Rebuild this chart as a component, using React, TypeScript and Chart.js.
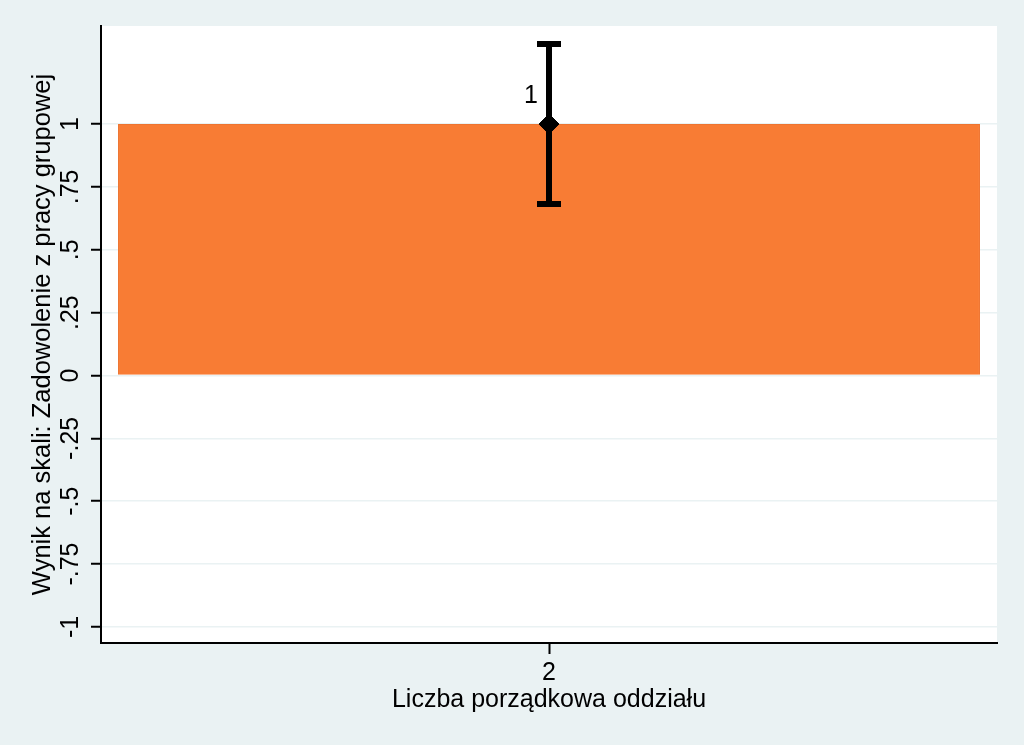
import { useEffect, useRef } from 'react'
import { Chart, registerables, Plugin } from 'chart.js'

Chart.register(...registerables)

// data
const categories = ['2']
const means = [1]
const ciLower = [0.682]
const ciUpper = [1.318]
const meanLabels = ['1']

const yTickValues = [-1, -0.75, -0.5, -0.25, 0, 0.25, 0.5, 0.75, 1]
const yTickLabels = ['-1', '-.75', '-.5', '-.25', '0', '.25', '.5', '.75', '1']

const yTitle = 'Wynik na skali: Zadowolenie z pracy grupowej'
const xTitle = 'Liczba porządkowa oddziału'

const BG = '#EAF2F3'
const ORANGE = '#F87C34'
const FONT = '25px "Liberation Sans", Arial, sans-serif'

const stataPlugin: Plugin = {
  id: 'stataLook',
  beforeDraw(chart) {
    const { ctx, chartArea } = chart
    ctx.save()
    ctx.fillStyle = '#ffffff'
    ctx.fillRect(chartArea.left, chartArea.top, chartArea.right - chartArea.left, chartArea.bottom - chartArea.top)
    ctx.restore()
  },
  afterDatasetDraw(chart, args) {
    if (args.index !== 0) return
    const { ctx } = chart
    const x = chart.scales.x
    const y = chart.scales.y
    ctx.save()
    ctx.strokeStyle = '#000'
    ctx.lineWidth = 6
    ctx.lineCap = 'butt'
    categories.forEach((_, i) => {
      const px = x.getPixelForValue(i)
      const top = y.getPixelForValue(ciUpper[i])
      const bot = y.getPixelForValue(ciLower[i])
      ctx.beginPath()
      ctx.moveTo(px, top)
      ctx.lineTo(px, bot)
      ctx.moveTo(px - 12, top)
      ctx.lineTo(px + 12, top)
      ctx.moveTo(px - 12, bot)
      ctx.lineTo(px + 12, bot)
      ctx.stroke()
    })
    ctx.restore()
  },
  afterDraw(chart) {
    const { ctx, chartArea } = chart
    const x = chart.scales.x
    const y = chart.scales.y
    ctx.save()
    ctx.fillStyle = '#000'
    ctx.font = FONT
    ctx.textAlign = 'center'
    ctx.textBaseline = 'middle'

    // value labels next to the markers
    categories.forEach((_, i) => {
      const px = x.getPixelForValue(i)
      const py = y.getPixelForValue(means[i])
      ctx.fillText(meanLabels[i], px - 18, py - 28)
    })

    // x tick labels and title
    categories.forEach((c, i) => {
      ctx.fillText(c, x.getPixelForValue(i), chartArea.bottom + 30)
    })
    ctx.fillText(xTitle, (chartArea.left + chartArea.right) / 2, chartArea.bottom + 57)

    // rotated y tick labels
    yTickValues.forEach((v, i) => {
      const py = y.getPixelForValue(v)
      ctx.save()
      ctx.translate(chartArea.left - 30, py)
      ctx.rotate(-Math.PI / 2)
      ctx.fillText(yTickLabels[i], 0, 0)
      ctx.restore()
    })

    // y title
    ctx.save()
    ctx.translate(chartArea.left - 58, (chartArea.top + chartArea.bottom) / 2)
    ctx.rotate(-Math.PI / 2)
    ctx.font = '25.5px "Liberation Sans", Arial, sans-serif'
    ctx.fillText(yTitle, 0, 0)
    ctx.restore()

    ctx.restore()
  },
}

export default function App() {
  const canvasRef = useRef<HTMLCanvasElement>(null)
  const chartRef = useRef<Chart | null>(null)

  useEffect(() => {
    document.body.style.margin = '0'
    if (!canvasRef.current) return
    if (chartRef.current) chartRef.current.destroy()

    chartRef.current = new Chart(canvasRef.current, {
      type: 'bar',
      data: {
        labels: categories,
        datasets: [
          {
            type: 'bar',
            label: 'mean',
            data: means,
            backgroundColor: ORANGE,
            borderColor: '#EE7430',
            borderWidth: 1,
            barPercentage: 0.962,
            categoryPercentage: 1,
            order: 2,
          },
          {
            type: 'line',
            label: 'marker',
            data: means,
            showLine: false,
            pointStyle: 'rectRot',
            pointRadius: 10,
            pointBackgroundColor: '#000',
            pointBorderColor: '#000',
            pointBorderWidth: 1,
            order: 1,
          },
        ],
      },
      options: {
        animation: false,
        responsive: true,
        maintainAspectRatio: false,
        layout: { padding: { top: 26, right: 27, left: 0, bottom: 0 } },
        plugins: {
          legend: { display: false },
          tooltip: { enabled: false },
        },
        scales: {
          x: {
            offset: true,
            grid: {
              offset: false,
              drawOnChartArea: false,
              tickColor: '#000',
              tickLength: 11,
              tickWidth: 2,
            },
            border: { color: '#000', width: 2 },
            ticks: { display: false },
            afterFit: (scale) => {
              scale.height = 102
            },
          },
          y: {
            min: -1.064,
            max: 1.39,
            afterBuildTicks: (scale) => {
              scale.ticks = yTickValues.map((v) => ({ value: v }))
            },
            grid: {
              color: BG,
              lineWidth: 1.5,
              tickColor: '#000',
              tickLength: 10,
              tickWidth: 2,
            },
            border: { color: '#000', width: 2 },
            ticks: { display: false },
            afterFit: (scale) => {
              scale.width = 101
            },
          },
        },
      },
      plugins: [stataPlugin],
    })

    return () => {
      if (chartRef.current) {
        chartRef.current.destroy()
        chartRef.current = null
      }
    }
  }, [])

  return (
    <div style={{ position: 'fixed', left: 0, top: 0, width: 1024, height: 745, background: BG }}>
      <canvas ref={canvasRef} />
    </div>
  )
}
